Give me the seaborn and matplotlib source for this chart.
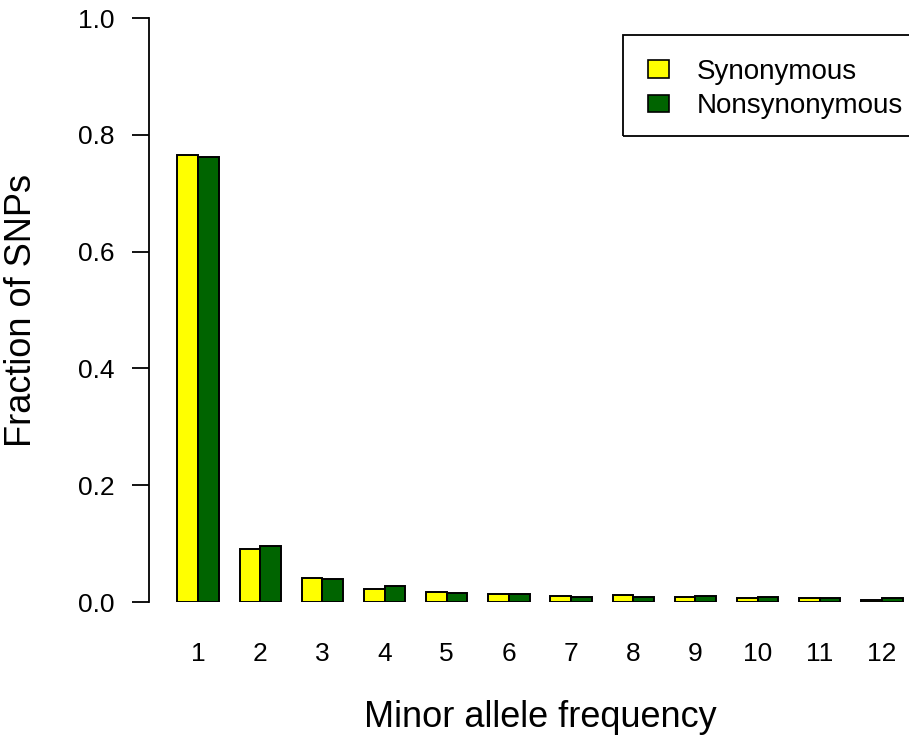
import numpy as np
import pandas as pd
import matplotlib
matplotlib.use("Agg")
import matplotlib.pyplot as plt
from matplotlib.patches import Rectangle
import seaborn as sns

# Site frequency spectrum: fraction of SNPs in each minor allele count class
maf_classes = [1, 2, 3, 4, 5, 6, 7, 8, 9, 10, 11, 12]
synonymous = [0.765, 0.091, 0.041, 0.022, 0.017, 0.013, 0.011, 0.0125, 0.008, 0.0075, 0.006, 0.004]
nonsynonymous = [0.762, 0.096, 0.040, 0.027, 0.016, 0.013, 0.008, 0.008, 0.0095, 0.008, 0.006, 0.006]
series_names = ["Synonymous", "Nonsynonymous"]
series_colors = ["#FFFF00", "#006400"]
y_ticks = [0.0, 0.2, 0.4, 0.6, 0.8, 1.0]

df = pd.DataFrame({
    "maf": [str(m) for m in maf_classes] * 2,
    "frac": synonymous + nonsynonymous,
    "type": [series_names[0]] * len(maf_classes) + [series_names[1]] * len(maf_classes),
})

sns.set_style("white")
plt.rcParams["font.family"] = ["Liberation Sans", "DejaVu Sans"]
plt.rcParams["text.color"] = "black"
plt.rcParams["axes.labelcolor"] = "black"
plt.rcParams["xtick.color"] = "black"
plt.rcParams["ytick.color"] = "black"

W, H = 909, 742
fig = plt.figure(figsize=(W / 100, H / 100), dpi=100)
# axes box in pixels: left spine at x=149, zero line at y=602, 1.0 at y=18
left_px, right_px, bottom_px, top_px = 149, 931, 602, 18
ax = fig.add_axes([left_px / W, 1 - bottom_px / H,
                   (right_px - left_px) / W, (bottom_px - top_px) / H])

sns.barplot(data=df, x="maf", y="frac", hue="type",
            order=[str(m) for m in maf_classes], hue_order=series_names,
            palette=series_colors, saturation=1, width=2 / 3, edgecolor="black",
            linewidth=1.4, ax=ax, legend=False)

ax.set_xlim(-0.79, len(maf_classes) - 1 + 0.79)
ax.set_ylim(0, 1.0)

for s in ["top", "right", "bottom"]:
    ax.spines[s].set_visible(False)
ax.spines["left"].set_linewidth(1.3)
ax.spines["left"].set_color("black")
ax.spines["left"].set_bounds(0, 1.0)

ax.set_yticks(y_ticks)
ax.set_yticklabels([f"{t:.1f}" for t in y_ticks])
ax.tick_params(axis="y", length=12, width=1.3, color="black", pad=13,
               labelsize=19, left=True, labelcolor="black")
ax.tick_params(axis="x", length=0, pad=29, labelsize=19, labelcolor="black")

ax.set_xlabel("Minor allele frequency", fontsize=26, labelpad=0, color="black")
ax.set_ylabel("Fraction of SNPs", fontsize=26, labelpad=0, color="black")
ax.xaxis.set_label_coords(0.5, -(727 - 602) / (bottom_px - top_px))
ax.xaxis.label.set_va("baseline")
ax.yaxis.set_label_coords((21 - left_px) / (right_px - left_px), 0.5)
ax.yaxis.label.set_va("center")

# legend entries, with a plain rectangular box drawn around them
handles = [plt.Rectangle((0, 0), 1, 1, facecolor=c, edgecolor="black", linewidth=1.2)
           for c in series_colors]
leg = ax.legend(handles, series_names, loc="upper left",
                bbox_to_anchor=(648 / W, 1 - 59 / H), bbox_transform=fig.transFigure,
                fontsize=20, frameon=False, handlelength=0.75,
                handleheight=0.6, handletextpad=1.0, labelspacing=0.3,
                borderpad=0, borderaxespad=0)
for t in leg.get_texts():
    t.set_color("black")
fig.patches.append(Rectangle((623 / W, 1 - 136 / H), 400 / W, 101 / H,
                             transform=fig.transFigure, fill=False,
                             edgecolor="black", linewidth=1.3))

fig.savefig("out.png", dpi=100)
